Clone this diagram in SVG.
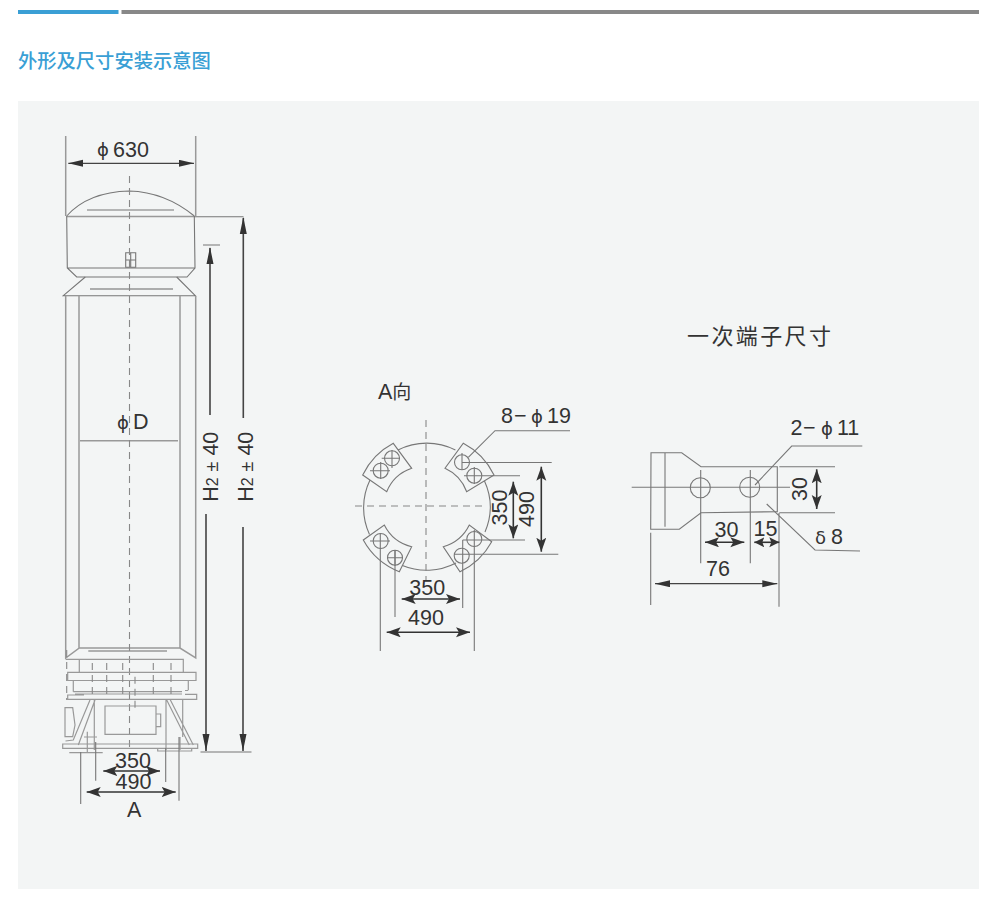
<svg xmlns="http://www.w3.org/2000/svg" width="1000" height="910" viewBox="0 0 1000 910">
<style>
.l{fill:none;stroke:#777;stroke-width:1.1}
.g{fill:none;stroke:#999;stroke-width:1.5}
.d{fill:none;stroke:#888;stroke-width:1.1;stroke-dasharray:7 5}
.a{fill:none;stroke:#333;stroke-width:1.6;marker-start:url(#m);marker-end:url(#m)}
.e{fill:none;stroke:#333;stroke-width:1.6;marker-start:url(#k);marker-end:url(#k)}
.b{fill:none;stroke:#444;stroke-width:1.3;marker-start:url(#n);marker-end:url(#n)}
.s{fill:none;stroke:#444;stroke-width:1.6}
.t{font-family:"Liberation Sans",Arial,sans-serif;font-size:21.500px;fill:#333}
.p{font-family:"DejaVu Sans",sans-serif;font-size:18px;fill:#333}
.c{font-family:"Noto Sans CJK SC",sans-serif}
</style>
<defs>
<marker id="m" markerUnits="userSpaceOnUse" markerWidth="15" markerHeight="11" refX="14" refY="5" orient="auto-start-reverse"><path d="M0 0L14 5L0 10L3 5Z" fill="#333"/></marker>
<marker id="k" markerUnits="userSpaceOnUse" markerWidth="11" markerHeight="11" refX="10" refY="5" orient="auto-start-reverse"><path d="M0 0L10 5L0 10L2 5Z" fill="#333"/></marker>
<marker id="n" markerUnits="userSpaceOnUse" markerWidth="16" markerHeight="8" refX="15" refY="3.500" orient="auto-start-reverse"><path d="M0 0L15 3.500L0 7Z" fill="#333"/></marker>
</defs>
<rect width="1000" height="910" fill="#fff"/>
<rect x="18" y="101" width="961" height="788" fill="#f3f5f5"/>
<rect x="18" y="10" width="100.500" height="4" fill="#3a9fd5"/>
<rect x="121.500" y="10" width="857.500" height="4" fill="#888"/>
<text x="18" y="67.500" class="c" font-size="19.300" font-weight="500" fill="#3a9fd5">外形及尺寸安装示意图</text>

<g id="column">
<path class="l" d="M66.700 216Q88 192 129.300 191Q165 192 194.300 216"/>
<path class="g" d="M66.700 216.500H194.300"/>
<path class="l" d="M87 210H174M66.700 216L67.300 268L76.700 277H187L195 268L194.300 216M67.300 268H195"/>
<path class="l" d="M85.300 277L63.300 295.700H195.300L176.700 277"/>
<path class="s" d="M90 289H173" style="stroke:#666;stroke-width:1.2"/>
<path class="g" d="M65.700 296V658L79.300 648H180L195.700 658V296M79 296V648M180 296V648M80 440.700H178M88.300 651H167"/>
<path class="l" d="M125.700 252.700H135.700V267.300H125.700ZM125.700 260H135.700M130.700 252.700V267.300"/>
<path class="d" d="M129.500 176V752"/>
<path class="g" style="stroke-width:1.2" d="M65.700 659.300H78.300M78.300 659.300H183.300V672M79.300 659.300V672.300M67.700 672.300H196V680.500H67.700ZM73.300 680.700V691.700M188.300 680.700V690M73.300 691.700H182M75 694H182M185 690.500H188.300M185 694.300H196.700V699.300H67.700V695H84"/>
<path class="g" style="stroke-width:1.2" d="M90 700L73.300 740L65.500 741M95 700L78.300 745M166.700 700L189.300 745M170 699.300L193.300 745M94.300 700V750M166 700V750M182.700 700V737M105 706H156V734.300H105ZM156 714H160.700V726.700H156ZM65 707.700H72.700L75 725L72.700 736.700H65Z"/>
<path class="g" style="stroke-width:1.2" d="M62.700 744H197.700V748.300H62.700ZM157.700 748.300H191.700V751H157.700ZM180 737V750M87.300 731.700V753M69.300 752.700H102.700M84 737H97"/>
<path class="d" d="M92.300 663V699M106.700 663V699M122.700 663V699M135 676.700V711.700M153.300 663V699M171 663V699M66.700 650V700"/>
</g>

<g id="connectors">
<path class="g" d="M65.700 136V216M195.700 136V216"/>
<path class="b" d="M68.300 163.300H194"/>
<path class="l" d="M194 216.700H243.500M203 245H220M200.500 752H251.500"/>
<path class="s" d="M210 248V415M206 514V751M243.300 218V418M243 527V751"/>
<path d="M210 247L206.500 264H213.500ZM202.500 734L206 751L209.500 734ZM243.300 217L239.800 234H246.800ZM239.500 734L243 751L246.500 734Z" fill="#333"/>
<path class="l" d="M80.700 752V804M95.700 742V780.700M165.700 748V782M179 737V800.700"/>
<path class="a" d="M103.300 771H160"/>
<path class="a" d="M86.700 792H175.700"/>

<path class="l" d="M570 430.700H495L468.300 457.300M462 462.500H551.700M464 475.700H520M462.700 540H525M455 554.300H558.300M462.700 540V608M474.300 530V651M380.300 533V651M395 550V617"/>
<path class="a" d="M513.300 481.700V538.300"/>
<path class="a" d="M541.300 466.700V551.700"/>
<path class="a" d="M401.700 599H460"/>
<path class="a" d="M386.700 632.300H470"/>

<path class="l" d="M862.300 446H791.700L755 485M779.300 466.700H835M779.300 512.700H835M766.700 504L815 550L860 551M650.700 532.700V605M779 513V606.700M700.700 470V563.300M750.300 470V563.300"/>
<path class="a" d="M816.700 469.300V509"/>
<path class="a" d="M705 542.300H744.300"/>
<path class="e" d="M754.300 542.300H779.300"/>
<path class="b" d="M655 583.700H777.300"/>
</g>

<g id="a-view">
<path class="l" d="M398 450A63.500 63.500 0 0 1 455.400 450M484.500 481A63.500 63.500 0 0 1 485 532M456 563A63.500 63.500 0 0 1 402.400 565.500M369.500 534.500A63.500 63.500 0 0 1 370 480"/>
<path class="l" d="M393.300 443.300L411.700 468.300A41.500 41.500 0 0 0 386.700 491.700L362.700 475A71 71 0 0 1 393.300 443.300Z"/>
<path class="l" d="M463.300 443.300A71 71 0 0 1 494 475L466.700 491.700A41.500 41.500 0 0 0 445 468.300Z"/>
<path class="l" d="M491.700 541.700A71 71 0 0 1 460 571.700L443.300 546.700A41.500 41.500 0 0 0 469.300 525Z"/>
<path class="l" d="M399.300 571.700A71 71 0 0 1 363.300 540L384.300 525A41.500 41.500 0 0 0 411.700 546.700Z"/>
<circle class="l" cx="392" cy="458.300" r="7.500"/><circle class="l" cx="380.700" cy="470.700" r="7.500"/>
<circle class="l" cx="462" cy="462.300" r="7.500"/><circle class="l" cx="474.300" cy="475.700" r="7.500"/>
<circle class="l" cx="380.700" cy="541" r="7.500"/><circle class="l" cx="395" cy="557.700" r="7.500"/>
<circle class="l" cx="474.300" cy="539" r="7.500"/><circle class="l" cx="461.700" cy="555.700" r="7.500"/>
<path class="l" d="M381.700 458.300H400M392 450V468M370 470.700H390M380.700 462V479M474.300 467V484M462 453V470M370 541H390M387 557.700H403M395 550V566"/>
<path class="d" d="M426 420V580M355 506H483"/>
</g>

<g id="terminal">
<path class="l" d="M651 452.700H681.700L701 466.700H777.300V511.700L701 512.700L679.300 529.300H650.700ZM665 452.700V526.700"/>
<path class="l" d="M631.700 487.300H790"/>
<circle class="l" cx="700.300" cy="487.700" r="10"/><circle class="l" cx="749.700" cy="487.300" r="10"/>
</g>

<g id="labels">
<text class="p" x="97" y="156">ϕ</text><text class="t" x="113" y="156.500">630</text>
<text class="p" x="117" y="429">ϕ</text><text class="t" x="133" y="429">D</text>
<text class="t" transform="translate(217.500 501.700) rotate(-90)" textLength="70">H<tspan font-size="16">2</tspan> <tspan font-size="18">±</tspan> 40</text>
<text class="t" transform="translate(252.500 501.700) rotate(-90)" textLength="70">H<tspan font-size="16">2</tspan> <tspan font-size="18">±</tspan> 40</text>
<text class="t" x="115" y="768.300">350</text>
<text class="t" x="115.500" y="789.300">490</text>
<text class="t" x="127" y="816.700" font-size="20">A</text>
<text class="t" x="378" y="399.300" font-size="20">A<tspan class="c" font-size="19">向</tspan></text>
<text class="t" x="501" y="423.300">8</text><text class="t" x="514" y="423.300">−</text><text class="p" x="531" y="423.300">ϕ</text><text class="t" x="547" y="423.300">19</text>
<text class="t" transform="translate(506.700 525.500) rotate(-90)">350</text>
<text class="t" transform="translate(534.300 527) rotate(-90)">490</text>
<text class="t" x="409.300" y="595">350</text>
<text class="t" x="408" y="625">490</text>
<text class="c" x="687" y="344" font-size="22" fill="#333" letter-spacing="2.400">一次端子尺寸</text>
<text class="t" x="790.500" y="435">2</text><text class="t" x="803" y="435">−</text><text class="p" x="821" y="435">ϕ</text><text class="t" x="837" y="435">11</text>
<text class="t" transform="translate(806.700 501) rotate(-90)">30</text>
<text class="p" x="815" y="544">δ</text><text class="t" x="831" y="544">8</text>
<text class="t" x="714.500" y="536.700">30</text>
<text class="t" x="753.500" y="536">15</text>
<text class="t" x="706" y="576">76</text>
</g>
</svg>
